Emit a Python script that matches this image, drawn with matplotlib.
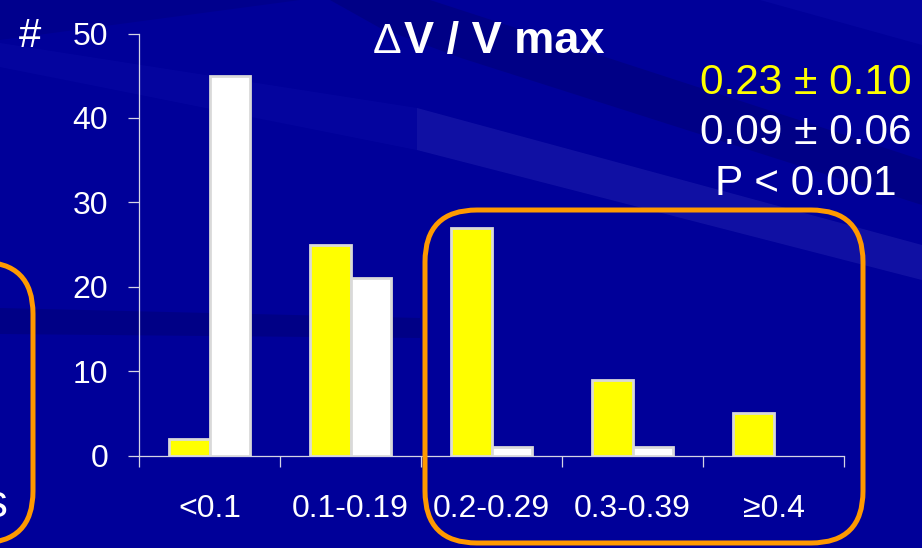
import matplotlib
matplotlib.use("Agg")
import matplotlib.pyplot as plt
from matplotlib.patches import FancyBboxPatch, Polygon
from matplotlib.transforms import offset_copy
import numpy as np

# ---- data ----
categories = ['<0.1', '0.1-0.19', '0.2-0.29', '0.3-0.39', '≥0.4']
yellow_counts = [2, 25, 27, 9, 5]
white_counts = [45, 21, 1, 1, 0]
y_ticks = [0, 10, 20, 30, 40, 50]
title_symbol = 'Δ'
title_rest = 'V / V max'
stats_lines = ['0.23 ± 0.10', '0.09 ± 0.06', 'P < 0.001']
stats_colors = ['#FFFF00', '#FFFFFF', '#FFFFFF']

plt.rcParams['font.family'] = ['Liberation Sans', 'DejaVu Sans']

W, H, DPI = 922, 548, 100
BG = '#000099'
AXIS_C = '#D4D4E4'
EDGE_C = '#D9D9D9'
ORANGE = '#FF9900'

fig = plt.figure(figsize=(W / DPI, H / DPI), dpi=DPI, facecolor=BG)

# background layer in pixel coordinates (origin top-left)
bg = fig.add_axes([0, 0, 1, 1], zorder=0)
bg.set_xlim(0, W)
bg.set_ylim(H, 0)
bg.axis('off')
bg.add_patch(Polygon([(0, 0), (W, 0), (W, H), (0, H)], closed=True, color=BG))
streaks = [
    # darker upper-left corner
    ([(0, 0), (300, 0), (0, 40)], '#00008A', 0.8),
    # soft light streak on the left half
    ([(0, 43), (417, 108), (417, 150), (0, 67)], '#0A0AA6', 0.45),
    # brighter streak on the right half
    ([(417, 108), (922, 245), (922, 280), (417, 150)], '#1818A8', 0.7),
    # dark diagonal streak behind the title
    ([(330, 0), (430, 0), (922, 160), (922, 205), (461, 58), (380, 28)], '#00007E', 0.7),
    # faint light corner at top right
    ([(760, 0), (922, 0), (922, 45)], '#0A0AA8', 0.5),
    # dark horizontal streak on the left
    ([(0, 308), (420, 318), (420, 338), (0, 334)], '#00007A', 0.6),
]
for pts, c, a in streaks:
    bg.add_patch(Polygon(pts, closed=True, facecolor=c, edgecolor='none', alpha=a))

# ---- main chart ----
ax = fig.add_axes([139 / W, 1 - 455.7 / H, 705 / W, 422.2 / H], zorder=2)
ax.set_facecolor('none')
x = np.arange(len(categories))
bw = 0.29
for xi, v in zip(x, yellow_counts):
    if v > 0:
        ax.bar(xi - 0.145, v, width=bw, color='#FFFF00', edgecolor=EDGE_C, linewidth=2, zorder=3)
for xi, v in zip(x, white_counts):
    if v > 0:
        ax.bar(xi + 0.145, v, width=bw, color='#FFFFFF', edgecolor=EDGE_C, linewidth=2, zorder=3)

ax.set_xlim(-0.5, len(categories) - 0.5)
ax.set_ylim(0, 50)
for s in ['top', 'right']:
    ax.spines[s].set_visible(False)
for s in ['left', 'bottom']:
    ax.spines[s].set_color(AXIS_C)
    ax.spines[s].set_linewidth(0.9)

ax.set_yticks(y_ticks)
ax.set_yticklabels([])
ax.set_xticks(np.arange(len(categories) + 1) - 0.5)
ax.set_xticklabels([])
ax.tick_params(axis='both', direction='out', length=8, width=0.9, color=AXIS_C)

ylab_tr = offset_copy(ax.get_yaxis_transform(), fig=fig, x=-31, y=-11.5, units='dots')
for v in y_ticks:
    ax.text(0, v, str(v), transform=ylab_tr, ha='right', va='baseline',
            color='white', fontsize=23)
xlab_tr = offset_copy(ax.get_xaxis_transform(), fig=fig, x=0, y=-61, units='dots')
for xi, lab in zip(x, categories):
    ax.text(xi, 0, lab, transform=xlab_tr, ha='center', va='baseline',
            color='white', fontsize=23)

# ---- overlay: text and highlight boxes ----
ov = fig.add_axes([0, 0, 1, 1], zorder=5)
ov.set_xlim(0, W)
ov.set_ylim(H, 0)
ov.axis('off')
ov.patch.set_alpha(0)

ov.text(19, 47, '#', color='white', fontsize=29, ha='left', va='baseline')
ov.text(373, 53, title_symbol, color='white', fontsize=31, ha='left', va='baseline')
ov.text(404, 53, title_rest, color='white', fontsize=32.5, fontweight='bold',
        ha='left', va='baseline')
for i, (line, c) in enumerate(zip(stats_lines, stats_colors)):
    ov.text(806, 94 + i * 50.5, line, color=c, fontsize=30.5, ha='center', va='baseline')

ov.add_patch(FancyBboxPatch((425, 210), 438, 333,
                            boxstyle='round,pad=0,rounding_size=52',
                            facecolor='none', edgecolor=ORANGE, linewidth=3.6))
ov.add_patch(FancyBboxPatch((-200, 262), 233, 281,
                            boxstyle='round,pad=0,rounding_size=52',
                            facecolor='none', edgecolor=ORANGE, linewidth=3.6))
ov.text(8, 517, 's', color='white', fontsize=33, ha='right', va='baseline')

fig.savefig('out.png', dpi=DPI, facecolor=BG)
